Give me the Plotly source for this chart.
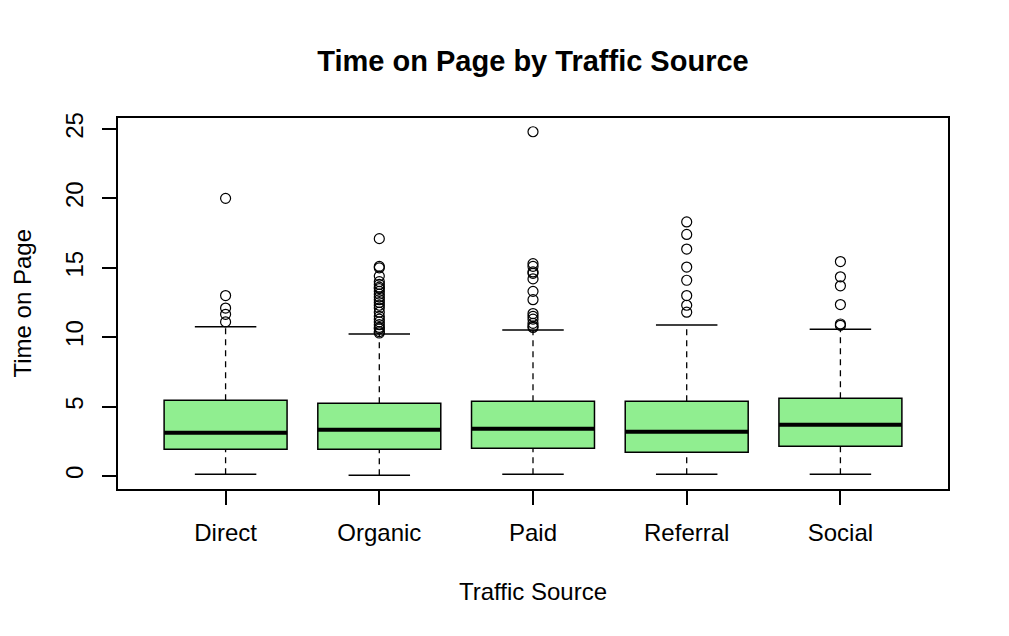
import plotly.graph_objects as go

categories = ["Direct", "Organic", "Paid", "Referral", "Social"]
q1 = [1.92, 1.92, 2.00, 1.71, 2.14]
median = [3.12, 3.34, 3.41, 3.19, 3.70]
q3 = [5.45, 5.24, 5.38, 5.38, 5.60]
lower_whisker = [0.12, 0.05, 0.12, 0.12, 0.12]
upper_whisker = [10.76, 10.23, 10.52, 10.88, 10.57]
outliers = {
    "Direct": [20.0, 13.0, 12.1, 11.65, 11.1],
    "Organic": [17.1, 15.1, 15.0, 14.4, 14.0, 13.8, 13.6, 13.5, 13.3, 13.1, 12.9,
                12.7, 12.5, 12.3, 12.1, 11.8, 11.5, 11.3, 11.1, 10.9, 10.7, 10.6,
                10.4, 10.3],
    "Paid": [24.8, 15.3, 15.1, 14.7, 14.6, 14.2, 13.3, 12.7, 11.7, 11.5, 11.3,
             11.0, 10.8, 10.7],
    "Referral": [18.3, 17.4, 16.35, 15.05, 14.1, 13.0, 12.3, 11.8],
    "Social": [15.45, 14.35, 13.7, 12.35, 10.95, 10.85],
}
y_ticks = [0, 5, 10, 15, 20, 25]

FONT = "Liberation Sans, Arial, sans-serif"
pos = list(range(1, len(categories) + 1))
BW = 0.8

fig = go.Figure()

# whiskers (dashed)
wx, wy = [], []
for p, lo, a, b, hi in zip(pos, lower_whisker, q1, q3, upper_whisker):
    wx += [p, p, None, p, p, None]
    wy += [lo, a, None, b, hi, None]
fig.add_trace(go.Scatter(x=wx, y=wy, mode="lines",
                         line=dict(color="black", width=1.3, dash="6px,5px"),
                         hoverinfo="skip", showlegend=False))
# staples
sx, sy = [], []
for p, lo, hi in zip(pos, lower_whisker, upper_whisker):
    sx += [p - BW / 4, p + BW / 4, None, p - BW / 4, p + BW / 4, None]
    sy += [lo, lo, None, hi, hi, None]
fig.add_trace(go.Scatter(x=sx, y=sy, mode="lines",
                         line=dict(color="black", width=1.5),
                         hoverinfo="skip", showlegend=False))
# boxes
fig.add_trace(go.Bar(x=pos, base=q1, y=[b - a for a, b in zip(q1, q3)],
                     width=BW, marker=dict(color="#90EE90",
                                           line=dict(color="black", width=1.5)),
                     showlegend=False))
# medians
mx, my = [], []
for p, m in zip(pos, median):
    mx += [p - BW / 2, p + BW / 2, None]
    my += [m, m, None]
fig.add_trace(go.Scatter(x=mx, y=my, mode="lines",
                         line=dict(color="black", width=4),
                         hoverinfo="skip", showlegend=False))
# outliers
ox, oy = [], []
for p, c in zip(pos, categories):
    ox += [p] * len(outliers[c])
    oy += outliers[c]
fig.add_trace(go.Scatter(x=ox, y=oy, mode="markers",
                         marker=dict(symbol="circle-open", size=10,
                                     color="black", line=dict(width=1.2)),
                         showlegend=False))

fig.update_layout(
    width=1009, height=636,
    margin=dict(l=118, r=61, t=118, b=147),
    paper_bgcolor="white", plot_bgcolor="white",
    font=dict(family=FONT, size=24, color="black"),
    title=dict(text="<b>Time on Page by Traffic Source</b>",
               font=dict(family=FONT, size=29, color="black"),
               x=0.5, xref="paper", xanchor="center",
               y=1 - 61 / 636, yref="container", yanchor="middle"),
    barmode="overlay",
    xaxis=dict(range=[0.3, 5.7], tickvals=pos, ticktext=categories,
               showgrid=False, zeroline=False, showline=True, mirror=True,
               linecolor="black", linewidth=1.5, ticks="outside", ticklen=14,
               tickwidth=1.5, tickcolor="black", ticklabelstandoff=7,
               tickfont=dict(family=FONT, size=24, color="black")),
    yaxis=dict(range=[-0.937, 25.79], tickvals=y_ticks,
               showgrid=False, zeroline=False, showline=True, mirror=True,
               linecolor="black", linewidth=1.5, ticks="outside", ticklen=14,
               tickwidth=1.5, tickcolor="black", tickangle=-90,
               ticklabelstandoff=10,
               tickfont=dict(family=FONT, size=24, color="black")),
    annotations=[
        dict(text="Traffic Source", xref="paper", yref="paper", x=0.5,
             y=(489 - 591) / 371, xanchor="center", yanchor="middle",
             showarrow=False, font=dict(family=FONT, size=24, color="black")),
        dict(text="Time on Page", xref="paper", yref="paper",
             x=(22 - 118) / 830, y=0.5, xanchor="center", yanchor="middle",
             textangle=-90, showarrow=False,
             font=dict(family=FONT, size=24, color="black")),
    ],
)

fig.write_html("out.html")
